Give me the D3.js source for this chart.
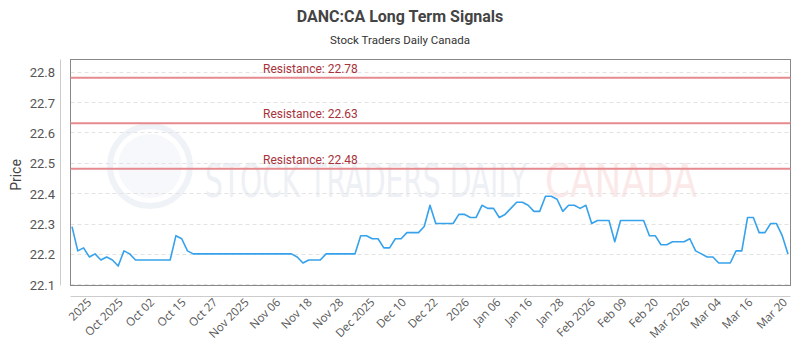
<!DOCTYPE html>
<html>
<head>
<meta charset="utf-8">
<script src="https://cdn.jsdelivr.net/npm/d3@7"></script>
<style>
    body { margin: 0; background: #fff; }
    svg { display: block; }
    .grid line { stroke: #e3e3e3; stroke-dasharray: 4 3; }
    .ytick { font-family: Roboto, sans-serif; font-size: 13px; fill: #555; }
    .xtick { font-family: "Open Sans", sans-serif; font-size: 11.5px; fill: #555; }
</style>
</head>
<body>
<svg id="chart" width="800" height="350"></svg>
<script>
// closing prices, one per trading day
const prices = [
    22.29, 22.21, 22.22, 22.19, 22.20, 22.18, 22.19, 22.18, 22.16, 22.21,
    22.20, 22.18, 22.18, 22.18, 22.18, 22.18, 22.18, 22.18, 22.26, 22.25,
    22.21, 22.20, 22.20, 22.20, 22.20, 22.20, 22.20, 22.20, 22.20, 22.20,
    22.20, 22.20, 22.20, 22.20, 22.20, 22.20, 22.20, 22.20, 22.20, 22.19,
    22.17, 22.18, 22.18, 22.18, 22.20, 22.20, 22.20, 22.20, 22.20, 22.20,
    22.26, 22.26, 22.25, 22.25, 22.22, 22.22, 22.25, 22.25, 22.27, 22.27,
    22.27, 22.29, 22.36, 22.30, 22.30, 22.30, 22.30, 22.33, 22.33, 22.32,
    22.32, 22.36, 22.35, 22.35, 22.32, 22.33, 22.35, 22.37, 22.37, 22.36,
    22.34, 22.34, 22.39, 22.39, 22.38, 22.34, 22.36, 22.36, 22.35, 22.36,
    22.30, 22.31, 22.31, 22.31, 22.24, 22.31, 22.31, 22.31, 22.31, 22.31,
    22.26, 22.26, 22.23, 22.23, 22.24, 22.24, 22.24, 22.25, 22.21, 22.20,
    22.19, 22.19, 22.17, 22.17, 22.17, 22.21, 22.21, 22.32, 22.32, 22.27,
    22.27, 22.30, 22.30, 22.26, 22.20
];

const tickLabels = [
    '2025', 'Oct 2025', 'Oct 02', 'Oct 15', 'Oct 27', 'Nov 2025', 'Nov 06',
    'Nov 18', 'Nov 28', 'Dec 2025', 'Dec 10', 'Dec 22', '2026', 'Jan 06',
    'Jan 16', 'Jan 28', 'Feb 2026', 'Feb 09', 'Feb 20', 'Mar 2026', 'Mar 04',
    'Mar 16', 'Mar 20'
];

const yTicks = [22.1, 22.2, 22.3, 22.4, 22.5, 22.6, 22.7, 22.8];
const resistanceLevels = [22.78, 22.63, 22.48];

const TITLE = 'DANC:CA Long Term Signals';
const SUBTITLE = 'Stock Traders Daily Canada';

class SignalChart {

    _svg;
    _plot = { left: 70.5, right: 790.5, top: 59.5, bottom: 285.5 };
    _x;
    _y;

    constructor(svgId) {
        this._svg = d3.select(`#${svgId}`);

        this._x = d3.scaleLinear()
            .domain([0, prices.length - 1])
            .range([72, 788]);

        this._y = d3.scaleLinear()
            .domain([22.096, 22.84])
            .range([this._plot.bottom, this._plot.top]);

        this._drawTitles();
        this._drawWatermark();
        this._drawGrid();
        this._drawAxes();
        this._drawResistance();
        this._drawLine();
    }

    _drawTitles() {
        this._svg.append('text')
            .attr('x', 400).attr('y', 22)
            .attr('text-anchor', 'middle')
            .style('font-family', 'Roboto, sans-serif')
            .style('font-weight', 'bold')
            .style('font-size', '16px')
            .style('fill', '#444')
            .text(TITLE);

        this._svg.append('text')
            .attr('x', 400).attr('y', 44)
            .attr('text-anchor', 'middle')
            .style('font-family', 'Roboto, sans-serif')
            .style('font-size', '11.5px')
            .style('fill', '#333')
            .text(SUBTITLE);

        this._svg.append('text')
            .attr('transform', 'translate(21,175) rotate(-90)')
            .attr('text-anchor', 'middle')
            .style('font-family', 'Roboto, sans-serif')
            .style('font-size', '14px')
            .style('fill', '#444')
            .text('Price');
    }

    _drawWatermark() {
        // faint logo + brand text behind the data
        const g = this._svg.append('g').attr('opacity', 0.45);
        g.append('circle')
            .attr('cx', 150).attr('cy', 166).attr('r', 40)
            .attr('fill', 'none')
            .attr('stroke', '#dde3ee')
            .attr('stroke-width', 6);
        g.append('circle')
            .attr('cx', 150).attr('cy', 166).attr('r', 32)
            .attr('fill', '#eef1f7');
        g.append('text')
            .attr('x', 205).attr('y', 197)
            .attr('textLength', 322)
            .attr('lengthAdjust', 'spacingAndGlyphs')
            .style('font-family', '"DejaVu Sans", sans-serif')
            .style('font-stretch', 'condensed')
            .style('font-size', '46px')
            .style('fill', '#d9dee8')
            .text('STOCK TRADERS DAILY');
        g.append('text')
            .attr('x', 545).attr('y', 197)
            .attr('textLength', 152)
            .attr('lengthAdjust', 'spacingAndGlyphs')
            .style('font-family', '"DejaVu Sans", sans-serif')
            .style('font-stretch', 'condensed')
            .style('font-size', '46px')
            .style('fill', '#f8d0d0')
            .text('CANADA');
    }

    _drawGrid() {
        this._svg.append('g')
            .classed('grid', true)
            .selectAll('line')
            .data(yTicks)
            .enter()
            .append('line')
            .attr('x1', this._plot.left)
            .attr('x2', this._plot.right)
            .attr('y1', d => Math.round(this._y(d)) + 0.5)
            .attr('y2', d => Math.round(this._y(d)) + 0.5);
    }

    _drawAxes() {
        const p = this._plot;

        // plot frame
        this._svg.append('rect')
            .attr('x', p.left).attr('y', p.top)
            .attr('width', p.right - p.left)
            .attr('height', p.bottom - p.top)
            .attr('fill', 'none')
            .attr('stroke', '#888');

        // offset axis lines
        this._svg.append('line')
            .attr('x1', 60.5).attr('x2', 60.5)
            .attr('y1', p.top).attr('y2', p.bottom)
            .attr('stroke', '#ccc');
        this._svg.append('line')
            .attr('x1', p.left).attr('x2', p.right)
            .attr('y1', 296.5).attr('y2', 296.5)
            .attr('stroke', '#ccc');

        this._svg.append('g')
            .selectAll('text')
            .data(yTicks)
            .enter()
            .append('text')
            .classed('ytick', true)
            .attr('x', 55)
            .attr('y', d => this._y(d) + 1)
            .attr('dy', '0.35em')
            .attr('text-anchor', 'end')
            .text(d => d.toFixed(1));

        // label positions in data index units, last label sits on the last day
        const last = tickLabels.length - 1;
        const tickIndex = d3.scaleLinear()
            .domain([0, last - 1])
            .range([2.8, 117.3]);
        const xOf = i => i === last ? this._x(prices.length - 1) - 4 : this._x(tickIndex(i));

        this._svg.append('g')
            .selectAll('text')
            .data(tickLabels)
            .enter()
            .append('text')
            .classed('xtick', true)
            .attr('text-anchor', 'end')
            .attr('transform', (d, i) => `translate(${xOf(i) + 4},${303}) rotate(-45)`)
            .text(d => d);
    }

    _drawResistance() {
        const g = this._svg.append('g');
        g.selectAll('line')
            .data(resistanceLevels)
            .enter()
            .append('line')
            .attr('x1', this._plot.left)
            .attr('x2', this._plot.right)
            .attr('y1', d => this._y(d))
            .attr('y2', d => this._y(d))
            .attr('stroke', '#e68a8f')
            .attr('stroke-width', 2);

        g.selectAll('text')
            .data(resistanceLevels)
            .enter()
            .append('text')
            .attr('x', 263)
            .attr('y', d => this._y(d) - 5)
            .style('font-family', 'Roboto, sans-serif')
            .style('font-size', '12px')
            .style('fill', '#a8323a')
            .text(d => `Resistance: ${d.toFixed(2)}`);
    }

    _drawLine() {
        const line = d3.line()
            .x((d, i) => this._x(i))
            .y(d => this._y(d));

        this._svg.append('path')
            .datum(prices)
            .attr('d', line)
            .attr('fill', 'none')
            .attr('stroke', '#36a2eb')
            .attr('stroke-width', 1.6)
            .attr('stroke-linejoin', 'round');
    }
}

new SignalChart('chart');
</script>
</body>
</html>
